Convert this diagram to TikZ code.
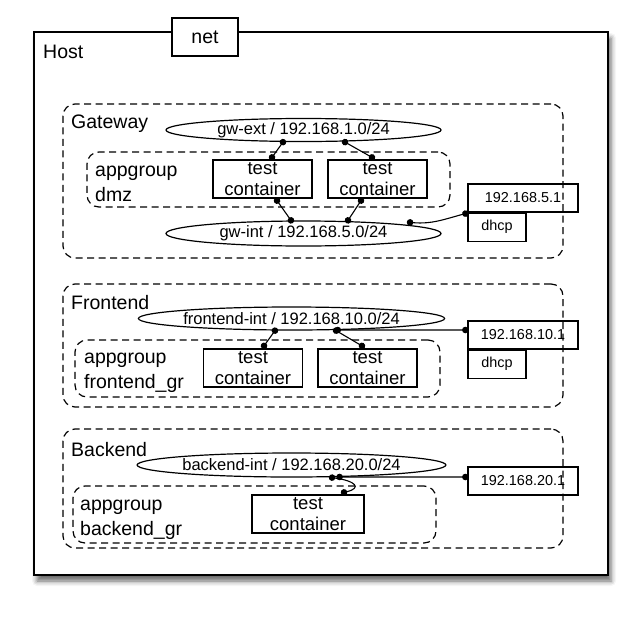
\documentclass[tikz,border=0pt]{standalone}
\usepackage{fontspec}
\setmainfont{Liberation Sans}
\usetikzlibrary{shapes.geometric,arrows.meta,calc,shadows.blur}

\tikzset{
  outline/.style={draw=black, line width=1.2pt},
  hostbox/.style={outline, fill=white, rectangle, inner sep=0pt,
    blur shadow={shadow xshift=3pt, shadow yshift=-6pt, shadow blur radius=5pt, shadow opacity=60}},
  tagbox/.style={outline, fill=white, rectangle, inner sep=0pt, font=\fontsize{19.5}{22}\selectfont},
  group/.style={draw=black, line width=1.2pt, dash pattern=on 7pt off 4.5pt,
    rounded corners=12pt, rectangle, inner sep=0pt},
  grouplabel/.style={anchor=west, inner sep=0pt, align=left,
    font=\fontsize{19.5}{25}\selectfont},
  netell/.style={outline, ellipse, inner sep=0pt, minimum height=23pt,
    font=\fontsize{16.5}{18}\selectfont},
  container/.style={outline, rectangle, inner sep=0pt, minimum width=99pt,
    minimum height=38pt, align=center, font=\fontsize{18.5}{21}\selectfont},
  gwbox/.style={outline, rectangle, inner sep=0pt, minimum width=110pt,
    minimum height=28pt, font=\fontsize{14.4}{16}\selectfont},
  dhcpbox/.style={outline, rectangle, inner sep=0pt, minimum width=58pt,
    minimum height=28pt, font=\fontsize{14.4}{16}\selectfont},
  link/.style={black, line width=1.1pt,
    {Circle[length=6.5pt,width=6.5pt]}-{Circle[length=6.5pt,width=6.5pt]},
    shorten <=-3.2pt, shorten >=-3.2pt},
}

\begin{document}
\begin{tikzpicture}[x=1pt,y=-1pt]
\useasboundingbox (0,0) rectangle (639,616);

% host frame with its tab
\node[hostbox, minimum width=574pt, minimum height=543pt] (host) at (321,303.5) {};
\node[tagbox, minimum width=66pt, minimum height=38pt] (net) at (205,37) {net};
\node[grouplabel] (hostlbl) at (43,52) {Host};

% ---------- Gateway ----------
\node[group, minimum width=500pt, minimum height=154pt] (gw) at (313,181) {};
\node[grouplabel] (gwlbl) at (71,124) {Gateway};
\node[netell, minimum width=275pt] (gwext) at (303.5,130) {gw-ext / 192.168.1.0/24};
\node[group, minimum width=363pt, minimum height=55pt] (dmz) at (268.5,179.5) {};
\node[grouplabel] (dmzlbl) at (95,183.5) {appgroup\\dmz};
\node[container] (gwc1) at (262.5,179) {test\\container};
\node[container] (gwc2) at (377.5,179) {test\\container};
\node[netell, minimum width=275pt, minimum height=25pt] (gwint) at (303.5,233.5) {gw-int / 192.168.5.0/24};
\node[gwbox] (gwip) at (523,198) {192.168.5.1};
\node[dhcpbox, anchor=north west] (gwdhcp) at (gwip.south west) {dhcp};

\draw[link] ($(gwext.south)+(-20.5,0)$) -- ($(gwc1.north)+(9.5,-2)$);
\draw[link] ($(gwext.south)+(41.5,0)$) -- ($(gwc2.north)+(-5.5,-2)$);
\draw[link] ($(gwc1.south)+(14.5,2)$) -- ($(gwint.north)+(-12.5,0)$);
\draw[link] ($(gwc2.south)+(-16.5,2)$) -- ($(gwint.north)+(44.5,0)$);
\draw[link] ($(gwint.north)+(106.5,2)$) to[out=-5,in=195] ($(gwip.south west)+(-2,1)$);

% ---------- Frontend ----------
\node[group, minimum width=500pt, minimum height=123pt] (fe) at (313,345.5) {};
\node[grouplabel] (felbl) at (71,303) {Frontend};
\node[netell, minimum width=299pt] (feint) at (291.5,318.5) {frontend-int / 192.168.10.0/24};
\node[group, minimum width=365pt, minimum height=57pt] (fegr) at (257.5,368.5) {};
\node[grouplabel] (fegrlbl) at (84,372.5) {appgroup\\frontend\_gr};
\node[container] (fec1) at (253,368) {test\\container};
\node[container] (fec2) at (367.5,368) {test\\container};
\node[gwbox] (feip) at (523,335) {192.168.10.1};
\node[dhcpbox, anchor=north west] (fedhcp) at (feip.south west) {dhcp};

\draw[link] ($(feint.south)+(-16.5,0)$) -- ($(fec1.north)+(11,-2.5)$);
\draw[link] ($(feint.south)+(44.5,0)$) -- ($(fec2.north)+(-5.5,-2.5)$);
\draw[link] (feint.-14) -- ($(feip.west)+(-2,-5)$);

% ---------- Backend ----------
\node[group, minimum width=500pt, minimum height=119pt] (be) at (313,488.5) {};
\node[grouplabel] (belbl) at (71,450) {Backend};
\node[netell, minimum width=299pt, minimum height=24pt] (beint) at (291.5,465) {backend-int / 192.168.20.0/24};
\node[group, minimum width=363pt, minimum height=57pt] (begr) at (254.5,514.5) {};
\node[grouplabel] (begrlbl) at (80,519.5) {appgroup\\backend\_gr};
\node[container, minimum width=112pt] (bec1) at (308,514) {test\\container};
\node[gwbox] (beip) at (523,481) {192.168.20.1};

\draw[link] ($(beint.south)+(40.5,0)$) .. controls (356,481) and (362,488) .. ($(bec1.north)+(36,-2)$);
\draw[link] (beint.-14) -- ($(beip.west)+(-2,-4)$);
\end{tikzpicture}
\end{document}
